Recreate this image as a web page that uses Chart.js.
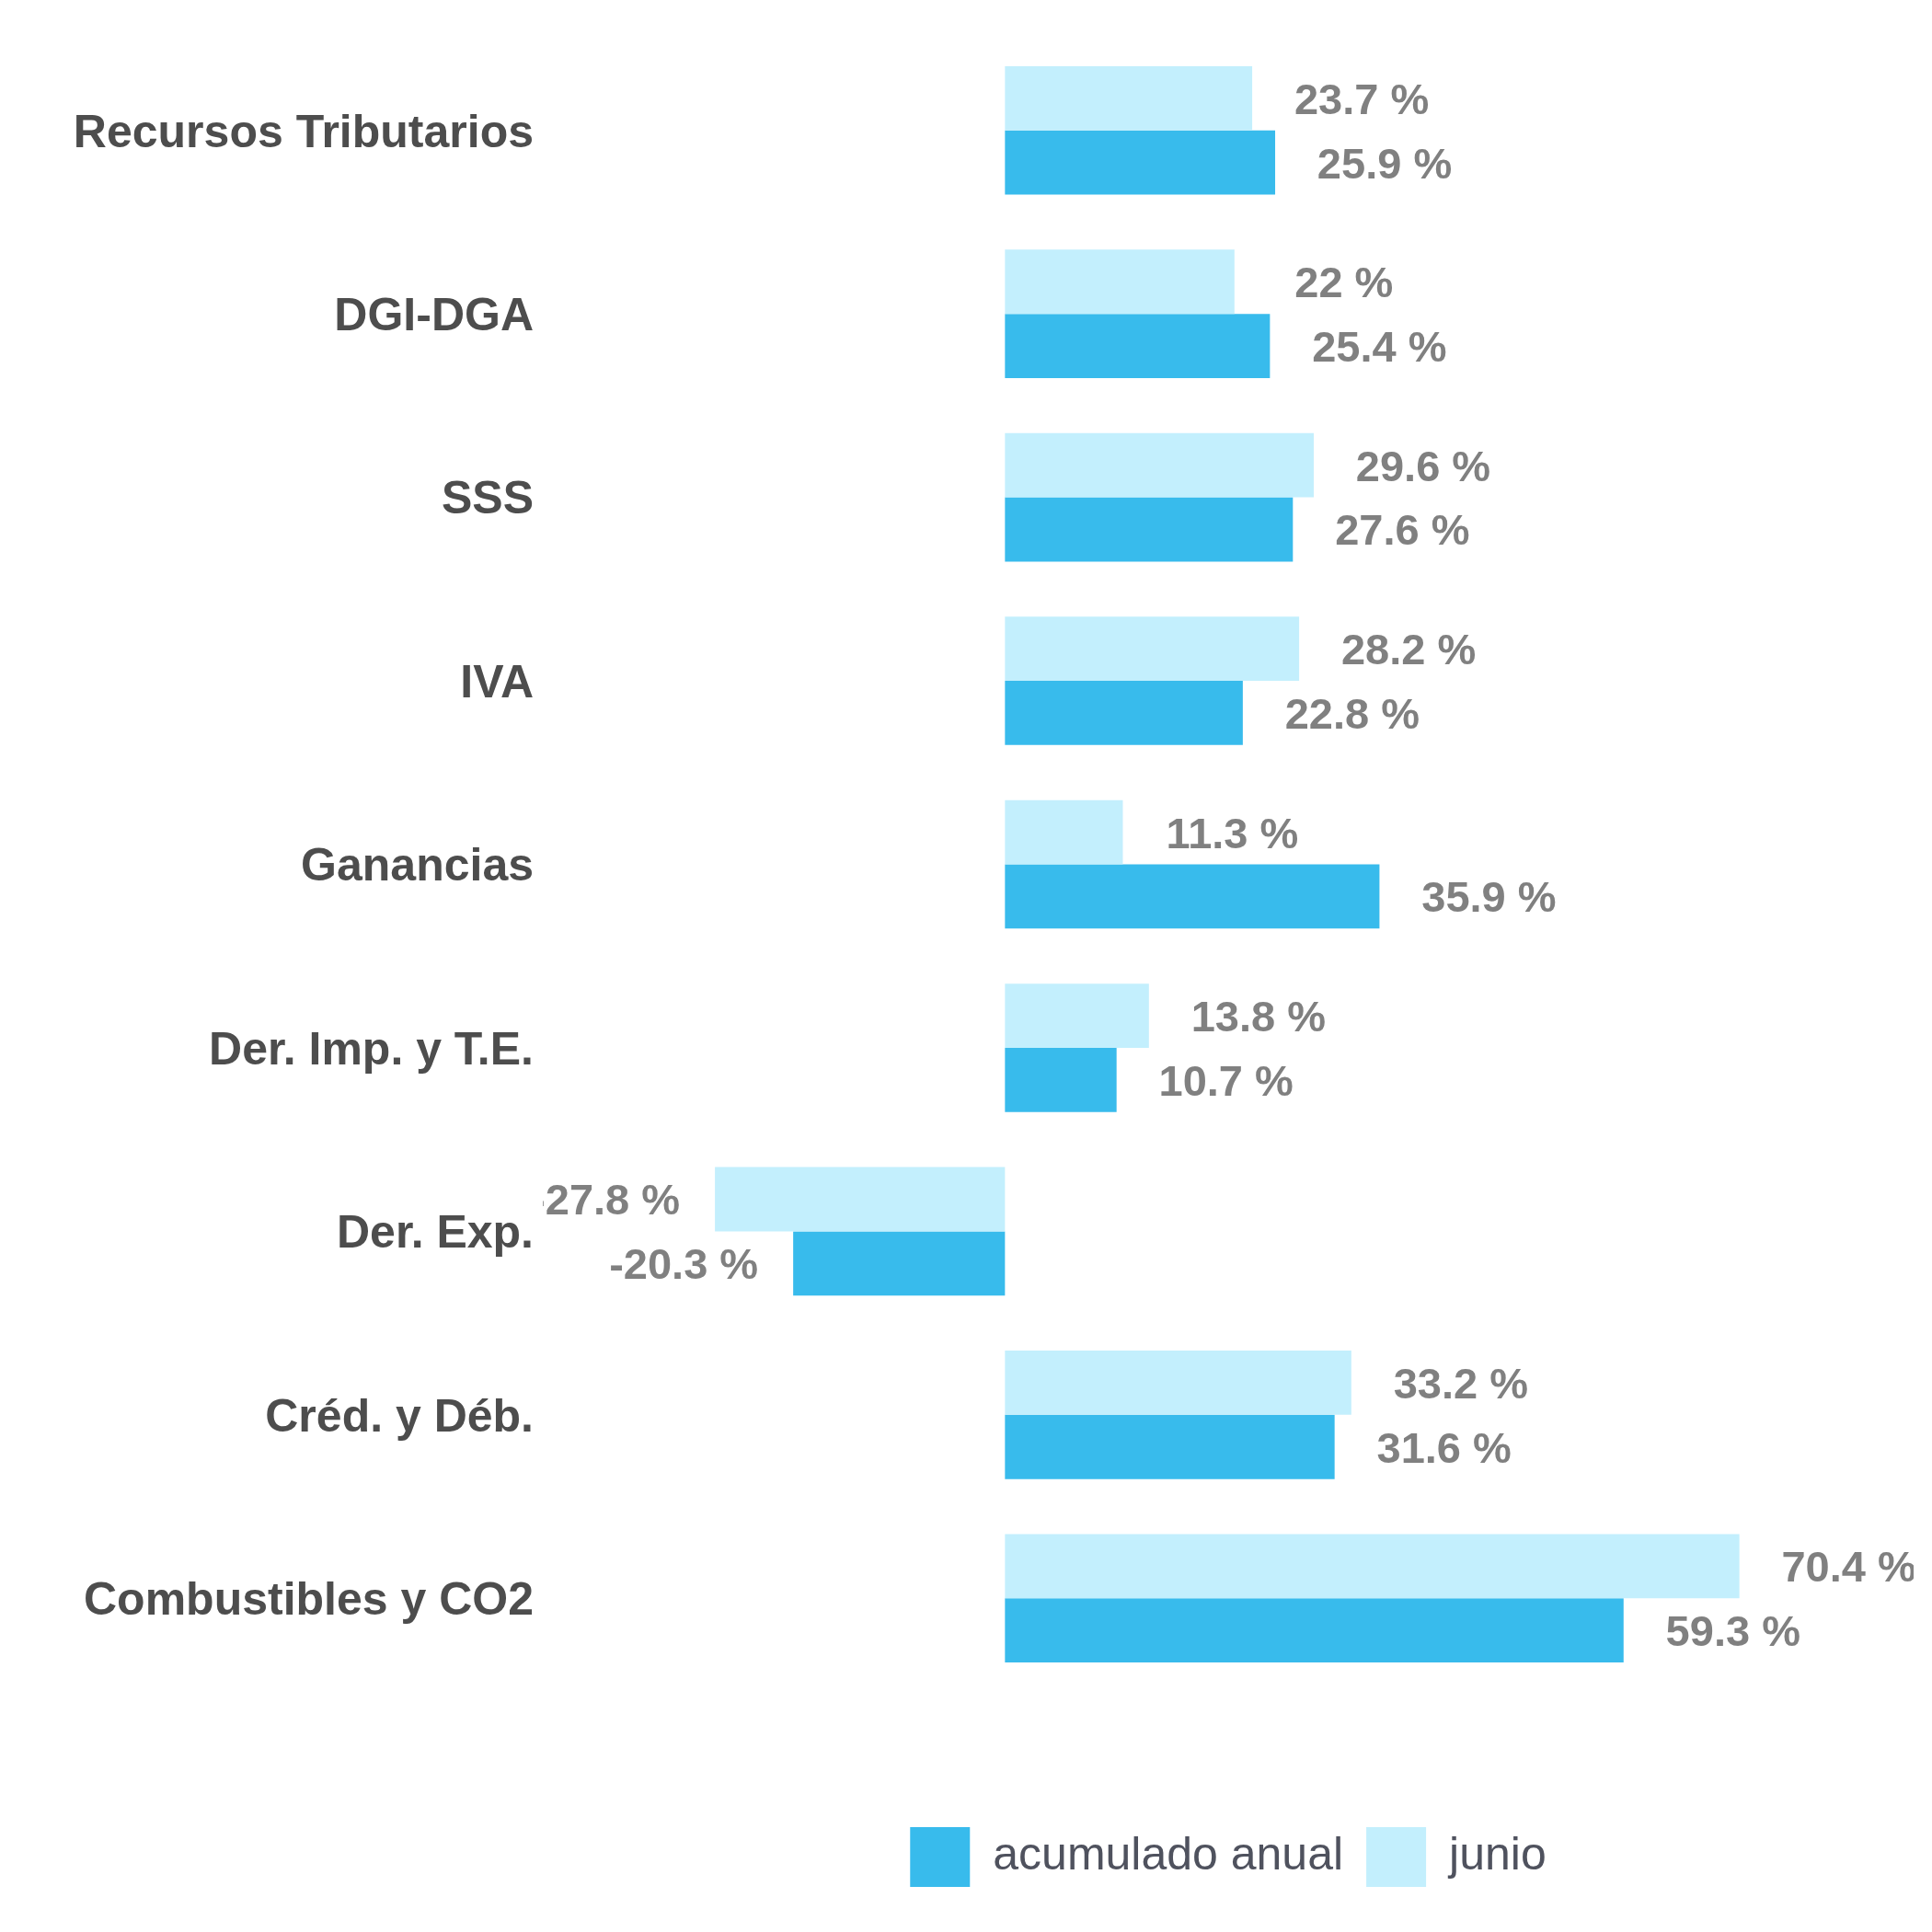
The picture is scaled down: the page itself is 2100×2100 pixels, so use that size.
<!DOCTYPE html>
<html>
<head>
<meta charset="utf-8">
<script src="https://cdn.jsdelivr.net/npm/chart.js@4.4.1/dist/chart.umd.min.js"></script>
<style>
  html, body { margin: 0; padding: 0; background: #fff; }
  #wrap { width: 2100px; height: 2100px; }
</style>
</head>
<body>
<div id="wrap"><canvas id="chart" width="2100" height="2100"></canvas></div>
<script>
// Categories, top to bottom
const categories = [
  'Recursos Tributarios', 'DGI-DGA', 'SSS', 'IVA', 'Ganancias',
  'Der. Imp. y T.E.', 'Der. Exp.', 'Créd. y Déb.', 'Combustibles y CO2'
];

// Series values (%)
const junio = [23.7, 22, 29.6, 28.2, 11.3, 13.8, -27.8, 33.2, 70.4];
const acumuladoAnual = [25.9, 25.4, 27.6, 22.8, 35.9, 10.7, -20.3, 31.6, 59.3];

// Value axis range
const axisMin = -44.3;
const axisMax = 87.1;

const FONT = '"Liberation Sans", Arial, sans-serif';

/**
 * Draw "x %" labels centred a fixed distance past each bar end,
 * clipped to the plot area
 */
const valueLabels = {
  id: 'valueLabels',
  afterDatasetsDraw(chart) {
    const { ctx, chartArea } = chart;
    ctx.save();
    ctx.beginPath();
    ctx.rect(chartArea.left, chartArea.top, chartArea.right - chartArea.left, chartArea.bottom - chartArea.top);
    ctx.clip();
    ctx.font = `bold 47px ${FONT}`;
    ctx.fillStyle = '#808080';
    ctx.textBaseline = 'middle';
    ctx.textAlign = 'center';
    chart.data.datasets.forEach((ds, i) => {
      chart.getDatasetMeta(i).data.forEach((bar, j) => {
        const v = ds.data[j];
        const offset = v < 0 ? -119 : 119;
        ctx.fillText(`${v} %`, bar.x + offset, bar.y + 4);
      });
    });
    ctx.restore();
  }
};

new Chart(document.getElementById('chart'), {
  type: 'bar',
  data: {
    labels: categories,
    datasets: [
      {
        label: 'junio',
        data: junio,
        backgroundColor: '#c3effd',
        categoryPercentage: 0.7,
        barPercentage: 1.0
      },
      {
        label: 'acumulado anual',
        data: acumuladoAnual,
        backgroundColor: '#38bbec',
        categoryPercentage: 0.7,
        barPercentage: 1.0
      }
    ]
  },
  options: {
    indexAxis: 'y',
    responsive: false,
    animation: false,
    devicePixelRatio: 1,
    layout: { padding: { top: 42, right: 20, bottom: 39, left: 0 } },
    plugins: {
      tooltip: { enabled: false },
      legend: {
        position: 'bottom',
        reverse: true,
        fullSize: false,
        labels: {
          boxWidth: 65,
          boxHeight: 65,
          padding: 25,
          color: '#4f525e',
          font: { family: FONT, size: 50 }
        }
      }
    },
    scales: {
      x: {
        min: axisMin,
        max: axisMax,
        grid: { display: false },
        border: { display: false },
        ticks: { display: false },
        afterFit: scale => { scale.height = 124; }
      },
      y: {
        grid: { display: false },
        border: { display: false },
        ticks: {
          color: '#4d4d4d',
          padding: 2,
          labelOffset: 4,
          font: { family: FONT, size: 50, weight: 'bold' }
        },
        afterFit: scale => { scale.width = 590; }
      }
    }
  },
  plugins: [valueLabels]
});
</script>
</body>
</html>
